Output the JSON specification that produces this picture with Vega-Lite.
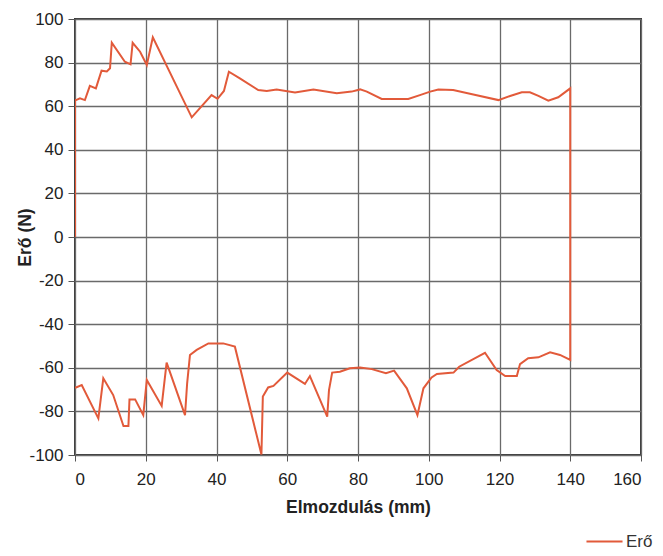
{
  "$schema": "https://vega.github.io/schema/vega-lite/v6.json",
  "autosize": {"type": "none"},
  "padding": {"left": 75, "top": 19, "right": 22, "bottom": 101},
  "width": 566,
  "height": 436,
  "background": "white",
  "config": {
    "view": {"stroke": "#3a3a3a", "strokeWidth": 2},
    "font": "Liberation Sans",
    "axis": {
      "gridColor": "#6a6a6a",
      "gridWidth": 1.3,
      "gridOpacity": 1,
      "domain": false,
      "tickColor": "#555555",
      "tickSize": 7,
      "tickWidth": 1,
      "labelFont": "Liberation Sans",
      "labelFontSize": 17,
      "labelColor": "#222222",
      "labelExpr": "'' + datum.value",
      "titleFont": "Liberation Sans",
      "titleFontSize": 17.5,
      "titleFontWeight": "bold",
      "titleColor": "#222222"
    }
  },
  "data": {
    "values": [
      {"i": 1, "x": 0, "y": 0, "s": "Erő"},
      {"i": 2, "x": 0, "y": 62.8, "s": "Erő"},
      {"i": 3, "x": 0.3, "y": 62.8, "s": "Erő"},
      {"i": 4, "x": 1.4, "y": 63.6, "s": "Erő"},
      {"i": 5, "x": 2.8, "y": 62.8, "s": "Erő"},
      {"i": 6, "x": 4.2, "y": 69.3, "s": "Erő"},
      {"i": 7, "x": 5.9, "y": 68.2, "s": "Erő"},
      {"i": 8, "x": 7.5, "y": 76.3, "s": "Erő"},
      {"i": 9, "x": 9.0, "y": 75.9, "s": "Erő"},
      {"i": 10, "x": 9.9, "y": 77.4, "s": "Erő"},
      {"i": 11, "x": 10.4, "y": 89.1, "s": "Erő"},
      {"i": 12, "x": 14.1, "y": 80.4, "s": "Erő"},
      {"i": 13, "x": 15.7, "y": 79.2, "s": "Erő"},
      {"i": 14, "x": 16.3, "y": 89.1, "s": "Erő"},
      {"i": 15, "x": 18.4, "y": 85, "s": "Erő"},
      {"i": 16, "x": 20.3, "y": 78.9, "s": "Erő"},
      {"i": 17, "x": 22.0, "y": 91.6, "s": "Erő"},
      {"i": 18, "x": 33.0, "y": 54.9, "s": "Erő"},
      {"i": 19, "x": 38.6, "y": 65.1, "s": "Erő"},
      {"i": 20, "x": 40.3, "y": 63.4, "s": "Erő"},
      {"i": 21, "x": 42.1, "y": 67, "s": "Erő"},
      {"i": 22, "x": 43.5, "y": 75.8, "s": "Erő"},
      {"i": 23, "x": 46.6, "y": 72.8, "s": "Erő"},
      {"i": 24, "x": 51.8, "y": 67.4, "s": "Erő"},
      {"i": 25, "x": 54.2, "y": 67, "s": "Erő"},
      {"i": 26, "x": 57.0, "y": 67.7, "s": "Erő"},
      {"i": 27, "x": 62.2, "y": 66.3, "s": "Erő"},
      {"i": 28, "x": 67.4, "y": 67.7, "s": "Erő"},
      {"i": 29, "x": 74.0, "y": 65.9, "s": "Erő"},
      {"i": 30, "x": 78.2, "y": 66.7, "s": "Erő"},
      {"i": 31, "x": 80.6, "y": 67.7, "s": "Erő"},
      {"i": 32, "x": 82.5, "y": 66.7, "s": "Erő"},
      {"i": 33, "x": 86.7, "y": 63.3, "s": "Erő"},
      {"i": 34, "x": 94.2, "y": 63.3, "s": "Erő"},
      {"i": 35, "x": 97.5, "y": 65.1, "s": "Erő"},
      {"i": 36, "x": 100.4, "y": 66.7, "s": "Erő"},
      {"i": 37, "x": 102.7, "y": 67.7, "s": "Erő"},
      {"i": 38, "x": 106.9, "y": 67.4, "s": "Erő"},
      {"i": 39, "x": 112.6, "y": 65.4, "s": "Erő"},
      {"i": 40, "x": 119.7, "y": 62.8, "s": "Erő"},
      {"i": 41, "x": 123.0, "y": 64.7, "s": "Erő"},
      {"i": 42, "x": 126.3, "y": 66.4, "s": "Erő"},
      {"i": 43, "x": 128.6, "y": 66.4, "s": "Erő"},
      {"i": 44, "x": 131.0, "y": 64.7, "s": "Erő"},
      {"i": 45, "x": 133.8, "y": 62.5, "s": "Erő"},
      {"i": 46, "x": 136.6, "y": 64.1, "s": "Erő"},
      {"i": 47, "x": 140, "y": 68.2, "s": "Erő"},
      {"i": 48, "x": 140, "y": -56.4, "s": "Erő"},
      {"i": 49, "x": 137.1, "y": -54.1, "s": "Erő"},
      {"i": 50, "x": 134.3, "y": -52.9, "s": "Erő"},
      {"i": 51, "x": 131.0, "y": -55.2, "s": "Erő"},
      {"i": 52, "x": 128.1, "y": -55.6, "s": "Erő"},
      {"i": 53, "x": 125.8, "y": -58.3, "s": "Erő"},
      {"i": 54, "x": 124.9, "y": -63.8, "s": "Erő"},
      {"i": 55, "x": 121.6, "y": -63.8, "s": "Erő"},
      {"i": 56, "x": 119.2, "y": -61, "s": "Erő"},
      {"i": 57, "x": 115.9, "y": -53.1, "s": "Erő"},
      {"i": 58, "x": 108.6, "y": -59.5, "s": "Erő"},
      {"i": 59, "x": 107.0, "y": -62.2, "s": "Erő"},
      {"i": 60, "x": 102.3, "y": -62.8, "s": "Erő"},
      {"i": 61, "x": 100.8, "y": -64.4, "s": "Erő"},
      {"i": 62, "x": 98.5, "y": -69.4, "s": "Erő"},
      {"i": 63, "x": 96.8, "y": -81.7, "s": "Erő"},
      {"i": 64, "x": 93.8, "y": -69.4, "s": "Erő"},
      {"i": 65, "x": 90.2, "y": -61.3, "s": "Erő"},
      {"i": 66, "x": 87.9, "y": -62.5, "s": "Erő"},
      {"i": 67, "x": 83.9, "y": -60.6, "s": "Erő"},
      {"i": 68, "x": 80.6, "y": -59.9, "s": "Erő"},
      {"i": 69, "x": 77.7, "y": -60.2, "s": "Erő"},
      {"i": 70, "x": 74.9, "y": -61.8, "s": "Erő"},
      {"i": 71, "x": 72.7, "y": -62.2, "s": "Erő"},
      {"i": 72, "x": 71.8, "y": -70.2, "s": "Erő"},
      {"i": 73, "x": 71.3, "y": -82.4, "s": "Erő"},
      {"i": 74, "x": 66.4, "y": -63.8, "s": "Erő"},
      {"i": 75, "x": 65.0, "y": -67.4, "s": "Erő"},
      {"i": 76, "x": 60.0, "y": -62.2, "s": "Erő"},
      {"i": 77, "x": 56.1, "y": -68.3, "s": "Erő"},
      {"i": 78, "x": 54.6, "y": -69, "s": "Erő"},
      {"i": 79, "x": 53.1, "y": -73.2, "s": "Erő"},
      {"i": 80, "x": 52.7, "y": -99.8, "s": "Erő"},
      {"i": 81, "x": 45.2, "y": -50.3, "s": "Erő"},
      {"i": 82, "x": 41.9, "y": -48.8, "s": "Erő"},
      {"i": 83, "x": 37.7, "y": -48.8, "s": "Erő"},
      {"i": 84, "x": 34.4, "y": -51.8, "s": "Erő"},
      {"i": 85, "x": 32.5, "y": -54.1, "s": "Erő"},
      {"i": 86, "x": 31.7, "y": -67.1, "s": "Erő"},
      {"i": 87, "x": 31.1, "y": -81.7, "s": "Erő"},
      {"i": 88, "x": 25.9, "y": -57.6, "s": "Erő"},
      {"i": 89, "x": 24.5, "y": -77.5, "s": "Erő"},
      {"i": 90, "x": 20.3, "y": -65.6, "s": "Erő"},
      {"i": 91, "x": 19.3, "y": -81.7, "s": "Erő"},
      {"i": 92, "x": 17.0, "y": -74.5, "s": "Erő"},
      {"i": 93, "x": 15.4, "y": -74.5, "s": "Erő"},
      {"i": 94, "x": 15.1, "y": -86.7, "s": "Erő"},
      {"i": 95, "x": 13.7, "y": -86.7, "s": "Erő"},
      {"i": 96, "x": 10.8, "y": -72.5, "s": "Erő"},
      {"i": 97, "x": 8.0, "y": -64.8, "s": "Erő"},
      {"i": 98, "x": 6.6, "y": -83.2, "s": "Erő"},
      {"i": 99, "x": 1.9, "y": -67.9, "s": "Erő"},
      {"i": 100, "x": 0.3, "y": -69, "s": "Erő"},
      {"i": 101, "x": 0, "y": -69, "s": "Erő"}
    ]
  },
  "mark": {"type": "line", "strokeWidth": 2, "clip": true},
  "encoding": {
    "x": {
      "field": "x",
      "type": "quantitative",
      "scale": {"domain": [0, 160], "nice": false},
      "axis": {"values": [0, 20, 40, 60, 80, 100, 120, 140, 160], "title": "Elmozdulás (mm)", "tickSize": 6, "labelPadding": 10, "titlePadding": 11}
    },
    "y": {
      "field": "y",
      "type": "quantitative",
      "scale": {"domain": [-100, 100], "nice": false},
      "axis": {"values": [-100, -80, -60, -40, -20, 0, 20, 40, 60, 80, 100], "title": "Erő (N)", "labelPadding": 5, "titleX": -50, "titleAlign": "center", "titleBaseline": "middle"}
    },
    "order": {"field": "i", "type": "quantitative"},
    "color": {
      "field": "s",
      "type": "nominal",
      "scale": {"range": ["#e25a3a"]},
      "legend": {
        "title": null,
        "orient": "none",
        "legendX": 510,
        "legendY": 503,
        "symbolType": "stroke",
        "symbolSize": 1300,
        "symbolStrokeWidth": 2,
        "labelFontSize": 17,
        "labelColor": "#333333",
        "labelFont": "Liberation Sans",
        "labelOffset": 2
      }
    }
  }
}
